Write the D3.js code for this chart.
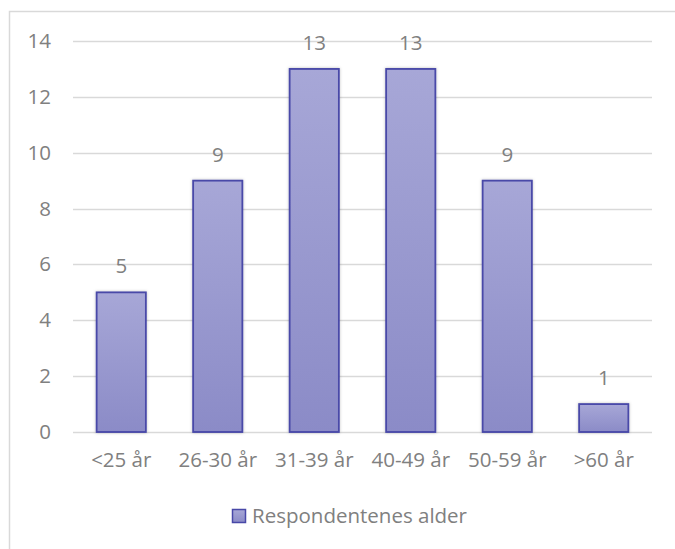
<!DOCTYPE html>
<html>
<head>
<meta charset="utf-8">
<script src="https://cdn.jsdelivr.net/npm/d3@7"></script>
<style>
  html, body { margin: 0; padding: 0; background: #fff; }
  svg { display: block; }
  text { font-family: "Open Sans", Lato, sans-serif; fill: #808080; }
</style>
</head>
<body>
<script>
// Age groups of the respondents and the number in each
const categories = ["<25 år", "26-30 år", "31-39 år", "40-49 år", "50-59 år", ">60 år"];
const counts = [5, 9, 13, 13, 9, 1];
const yTicks = [0, 2, 4, 6, 8, 10, 12, 14];
const seriesName = "Respondentenes alder";

const W = 675, H = 549;
const margin = { left: 73, right: 23, top: 41, bottom: 117 };
const FONT = "20.5px";

const svg = d3.select("body").append("svg")
  .attr("width", W).attr("height", H);

const defs = svg.append("defs");
const grad = defs.append("linearGradient")
  .attr("id", "barFill").attr("x1", 0).attr("y1", 0).attr("x2", 0).attr("y2", 1);
grad.append("stop").attr("offset", "0%").attr("stop-color", "#a7a7d7");
grad.append("stop").attr("offset", "100%").attr("stop-color", "#8b8bc7");

const shadow = defs.append("filter").attr("id", "soft")
  .attr("x", "-20%").attr("y", "-20%").attr("width", "140%").attr("height", "140%");
shadow.append("feDropShadow").attr("dx", 0).attr("dy", 0)
  .attr("stdDeviation", 1.5).attr("flood-color", "#000").attr("flood-opacity", 0.25);

// chart frame (continues past the right and bottom edges)
svg.append("path")
  .attr("d", `M9.5,${H + 5} V11.5 H${W + 5}`)
  .attr("fill", "none").attr("stroke", "#d9d9d9").attr("stroke-width", 1.5);

const x = d3.scaleBand()
  .domain(categories)
  .range([margin.left, W - margin.right])
  .paddingInner(0.49).paddingOuter(0.245);

const y = d3.scaleLinear()
  .domain([0, 14])
  .range([H - margin.bottom, margin.top]);

// gridlines
svg.append("g")
  .selectAll("line")
  .data(yTicks)
  .join("line")
  .attr("x1", margin.left).attr("x2", W - margin.right)
  .attr("y1", d => Math.round(y(d)) + 0.5).attr("y2", d => Math.round(y(d)) + 0.5)
  .attr("stroke", "#d9d9d9").attr("stroke-width", 1.3);

// y axis labels
const yAxis = svg.append("g")
  .attr("transform", `translate(${margin.left - 22},0)`)
  .call(d3.axisLeft(y).tickValues(yTicks).tickSize(0).tickPadding(0));
yAxis.select(".domain").remove();
yAxis.selectAll("text")
  .style("font-family", "'Open Sans', Lato, sans-serif")
  .style("font-size", FONT).attr("fill", "#808080");

// x axis labels
const xAxis = svg.append("g")
  .attr("transform", `translate(0,${H - margin.bottom + 28})`)
  .call(d3.axisBottom(x).tickSize(0).tickPadding(0));
xAxis.select(".domain").remove();
xAxis.selectAll("text")
  .style("font-family", "'Open Sans', Lato, sans-serif")
  .style("font-size", FONT).attr("fill", "#808080")
  .attr("dy", "0.35em");

// bars
svg.append("g")
  .selectAll("rect")
  .data(counts)
  .join("rect")
  .attr("x", (d, i) => x(categories[i]))
  .attr("y", d => y(d))
  .attr("width", x.bandwidth())
  .attr("height", d => y(0) - y(d))
  .attr("fill", "url(#barFill)")
  .attr("stroke", "#4848a8").attr("stroke-width", 1.8)
  .attr("filter", "url(#soft)");

// value labels
svg.append("g")
  .selectAll("text")
  .data(counts)
  .join("text")
  .attr("x", (d, i) => x(categories[i]) + x.bandwidth() / 2)
  .attr("y", d => y(d) - 19)
  .attr("text-anchor", "middle")
  .style("font-size", FONT)
  .text(d => d);

// legend
const lg = svg.append("g");
lg.append("rect")
  .attr("x", 232.5).attr("y", 509.5).attr("width", 13).attr("height", 13)
  .attr("fill", "url(#barFill)").attr("stroke", "#4848a8").attr("stroke-width", 1.5);
lg.append("text")
  .attr("x", 252).attr("y", 523)
  .style("font-size", FONT)
  .text(seriesName);
</script>
</body>
</html>
